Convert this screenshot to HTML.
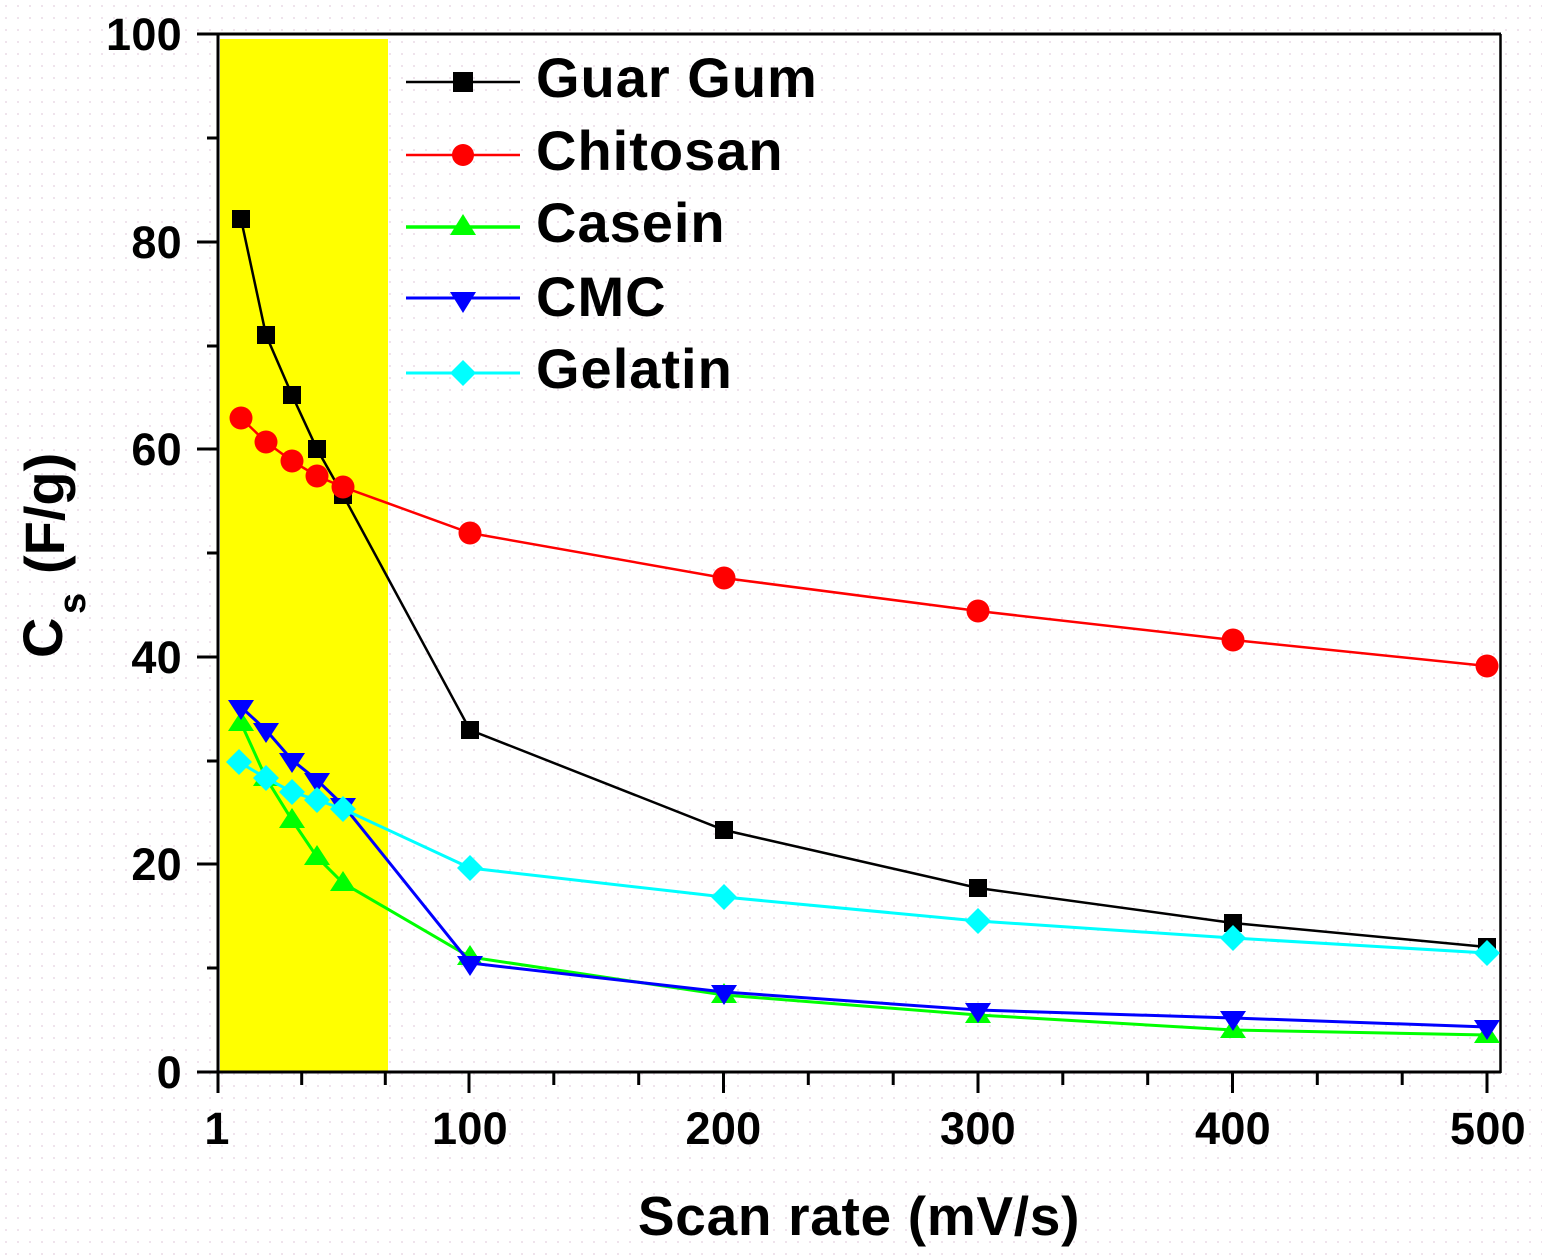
<!DOCTYPE html>
<html>
<head>
<meta charset="utf-8">
<style>
  html, body { margin:0; padding:0; background:#fff; }
  svg { display:block; }
  text { font-family: "Liberation Sans", Arial, sans-serif; font-weight: bold; fill:#000; }
</style>
</head>
<body>
<svg width="1542" height="1259" viewBox="0 0 1542 1259" xmlns="http://www.w3.org/2000/svg">
  <defs>
    <pattern id="dots" x="0" y="0" width="12" height="12" patternUnits="userSpaceOnUse">
      <rect x="5" y="5" width="2" height="2" fill="#efe3ec"/>
    </pattern>
  </defs>
  <rect x="0" y="0" width="1542" height="1259" fill="#fff"/>
  <rect x="0" y="0" width="1542" height="1259" fill="url(#dots)"/>

  <!-- yellow highlight -->
  <rect x="220" y="39" width="168" height="1032" fill="#ffff00"/>

  <!-- axes frame -->
  <line x1="218" y1="34" x2="1501" y2="34" stroke="#000" stroke-width="3"/>
  <line x1="1500.5" y1="34" x2="1500.5" y2="1073" stroke="#000" stroke-width="2.5"/>
  <line x1="218" y1="33" x2="218" y2="1074" stroke="#000" stroke-width="3"/>
  <line x1="197" y1="1072" x2="1501" y2="1072" stroke="#000" stroke-width="3"/>

  <!-- Y ticks -->
  <g stroke="#000" stroke-width="3">
    <line x1="197" y1="34" x2="218" y2="34"/>
    <line x1="197" y1="242" x2="218" y2="242"/>
    <line x1="197" y1="449" x2="218" y2="449"/>
    <line x1="197" y1="657" x2="218" y2="657"/>
    <line x1="197" y1="864" x2="218" y2="864"/>
    <line x1="207" y1="138" x2="218" y2="138"/>
    <line x1="207" y1="346" x2="218" y2="346"/>
    <line x1="207" y1="553" x2="218" y2="553"/>
    <line x1="207" y1="761" x2="218" y2="761"/>
    <line x1="207" y1="968" x2="218" y2="968"/>
  </g>
  <!-- X ticks -->
  <g stroke="#000" stroke-width="3">
    <line x1="218" y1="1072" x2="218" y2="1093"/>
    <line x1="469" y1="1072" x2="469" y2="1093"/>
    <line x1="723.5" y1="1072" x2="723.5" y2="1093"/>
    <line x1="978" y1="1072" x2="978" y2="1093"/>
    <line x1="1232.5" y1="1072" x2="1232.5" y2="1093"/>
    <line x1="1487" y1="1072" x2="1487" y2="1093"/>
    <line x1="301.7" y1="1072" x2="301.7" y2="1085"/>
    <line x1="385.3" y1="1072" x2="385.3" y2="1085"/>
    <line x1="553.8" y1="1072" x2="553.8" y2="1085"/>
    <line x1="638.7" y1="1072" x2="638.7" y2="1085"/>
    <line x1="808.3" y1="1072" x2="808.3" y2="1085"/>
    <line x1="893.2" y1="1072" x2="893.2" y2="1085"/>
    <line x1="1062.8" y1="1072" x2="1062.8" y2="1085"/>
    <line x1="1147.7" y1="1072" x2="1147.7" y2="1085"/>
    <line x1="1317.3" y1="1072" x2="1317.3" y2="1085"/>
    <line x1="1402.2" y1="1072" x2="1402.2" y2="1085"/>
  </g>

  <!-- Y tick labels -->
  <g font-size="45" text-anchor="end" letter-spacing="0.3">
    <text x="182" y="50">100</text>
    <text x="182" y="258">80</text>
    <text x="182" y="465">60</text>
    <text x="182" y="673">40</text>
    <text x="182" y="880">20</text>
    <text x="182" y="1088">0</text>
  </g>
  <!-- X tick labels -->
  <g font-size="45" text-anchor="middle" letter-spacing="0.3">
    <text x="217" y="1144">1</text>
    <text x="470" y="1144">100</text>
    <text x="723.5" y="1144">200</text>
    <text x="978" y="1144">300</text>
    <text x="1233" y="1144">400</text>
    <text x="1488" y="1144">500</text>
  </g>

  <!-- Axis titles -->
  <text x="859" y="1235" font-size="55" text-anchor="middle" letter-spacing="0.7">Scan rate (mV/s)</text>
  <text transform="translate(62,658) rotate(-90)" font-size="56">C</text>
  <text transform="translate(85,614) rotate(-90)" font-size="38">s</text>
  <text transform="translate(64,574) rotate(-90)" font-size="56">(F/g)</text>

  <!-- Series: Guar Gum -->
  <polyline fill="none" stroke="#000" stroke-width="2.5" points="241,219 266,335 292,395 317,449 343,495 470,730 724,830 978,888 1233,923 1487,947"/>
  <g fill="#000">
    <rect x="232" y="210" width="18" height="18"/>
    <rect x="257" y="326" width="18" height="18"/>
    <rect x="283" y="386" width="18" height="18"/>
    <rect x="308" y="440" width="18" height="18"/>
    <rect x="334" y="486" width="18" height="18"/>
    <rect x="461" y="721" width="18" height="18"/>
    <rect x="715" y="821" width="18" height="18"/>
    <rect x="969" y="879" width="18" height="18"/>
    <rect x="1224" y="914" width="18" height="18"/>
    <rect x="1478" y="938" width="18" height="18"/>
  </g>

  <!-- Chitosan -->
  <polyline fill="none" stroke="#ff0000" stroke-width="2.5" points="241,418 266,442 292,461 317,476 343,487 470,533 724,578 978,611 1233,640 1487,666"/>
  <g fill="#ff0000">
    <circle cx="241" cy="418" r="11.5"/>
    <circle cx="266" cy="442" r="11.5"/>
    <circle cx="292" cy="461" r="11.5"/>
    <circle cx="317" cy="476" r="11.5"/>
    <circle cx="343" cy="487" r="11.5"/>
    <circle cx="470" cy="533" r="11.5"/>
    <circle cx="724" cy="578" r="11.5"/>
    <circle cx="978" cy="611" r="11.5"/>
    <circle cx="1233" cy="640" r="11.5"/>
    <circle cx="1487" cy="666" r="11.5"/>
  </g>

  <!-- Casein -->
  <polyline fill="none" stroke="#00ff00" stroke-width="3" points="241,723 266,778 292,820 317,857 343,883 470,957 724,995 978,1015 1233,1030 1487,1035"/>
  <g fill="#00ff00">
    <polygon points="241,711 254,731 228,731"/>
    <polygon points="266,766 279,786 253,786"/>
    <polygon points="292,808 305,828 279,828"/>
    <polygon points="317,845 330,865 304,865"/>
    <polygon points="343,871 356,891 330,891"/>
    <polygon points="470,945 483,965 457,965"/>
    <polygon points="724,983 737,1003 711,1003"/>
    <polygon points="978,1003 991,1023 965,1023"/>
    <polygon points="1233,1018 1246,1038 1220,1038"/>
    <polygon points="1487,1023 1500,1043 1474,1043"/>
  </g>

  <!-- CMC -->
  <polyline fill="none" stroke="#0000ff" stroke-width="3" points="241,707 266,730 292,760 317,780 343,805 470,963 724,992 978,1010 1233,1018 1487,1027"/>
  <g fill="#0000ff">
    <polygon points="228,700 254,700 241,720"/>
    <polygon points="253,723 279,723 266,743"/>
    <polygon points="279,753 305,753 292,773"/>
    <polygon points="304,773 330,773 317,793"/>
    <polygon points="330,798 356,798 343,818"/>
    <polygon points="457,956 483,956 470,976"/>
    <polygon points="711,985 737,985 724,1005"/>
    <polygon points="965,1003 991,1003 978,1023"/>
    <polygon points="1220,1011 1246,1011 1233,1031"/>
    <polygon points="1474,1020 1500,1020 1487,1040"/>
  </g>

  <!-- Gelatin -->
  <polyline fill="none" stroke="#00ffff" stroke-width="3" points="239,762 266,778 292,792 317,800 343,809 470,868 724,897 978,921 1233,938 1487,953"/>
  <g fill="#00ffff">
    <polygon points="239,749 252,762 239,775 226,762"/>
    <polygon points="266,765 279,778 266,791 253,778"/>
    <polygon points="292,779 305,792 292,805 279,792"/>
    <polygon points="317,787 330,800 317,813 304,800"/>
    <polygon points="343,796 356,809 343,822 330,809"/>
    <polygon points="470,855 483,868 470,881 457,868"/>
    <polygon points="724,884 737,897 724,910 711,897"/>
    <polygon points="978,908 991,921 978,934 965,921"/>
    <polygon points="1233,925 1246,938 1233,951 1220,938"/>
    <polygon points="1487,940 1500,953 1487,966 1474,953"/>
  </g>

  <!-- Legend -->
  <line x1="406" y1="82" x2="520" y2="82" stroke="#000" stroke-width="2.5"/>
  <rect x="453" y="72" width="20" height="20" fill="#000"/>
  <line x1="406" y1="155" x2="520" y2="155" stroke="#ff0000" stroke-width="2.5"/>
  <circle cx="463" cy="155" r="11" fill="#ff0000"/>
  <line x1="406" y1="227" x2="520" y2="227" stroke="#00ff00" stroke-width="3.5"/>
  <polygon points="463,214 476,235 450,235" fill="#00ff00"/>
  <line x1="406" y1="298" x2="520" y2="298" stroke="#0000ff" stroke-width="3"/>
  <polygon points="450,292 476,292 463,313" fill="#0000ff"/>
  <line x1="406" y1="373" x2="520" y2="373" stroke="#00ffff" stroke-width="3"/>
  <polygon points="463,360 476,373 463,386 450,373" fill="#00ffff"/>

  <g font-size="56" letter-spacing="1">
    <text x="536" y="97">Guar Gum</text>
    <text x="536" y="170">Chitosan</text>
    <text x="536" y="242">Casein</text>
    <text x="536" y="316">CMC</text>
    <text x="536" y="388">Gelatin</text>
  </g>
</svg>
</body>
</html>
